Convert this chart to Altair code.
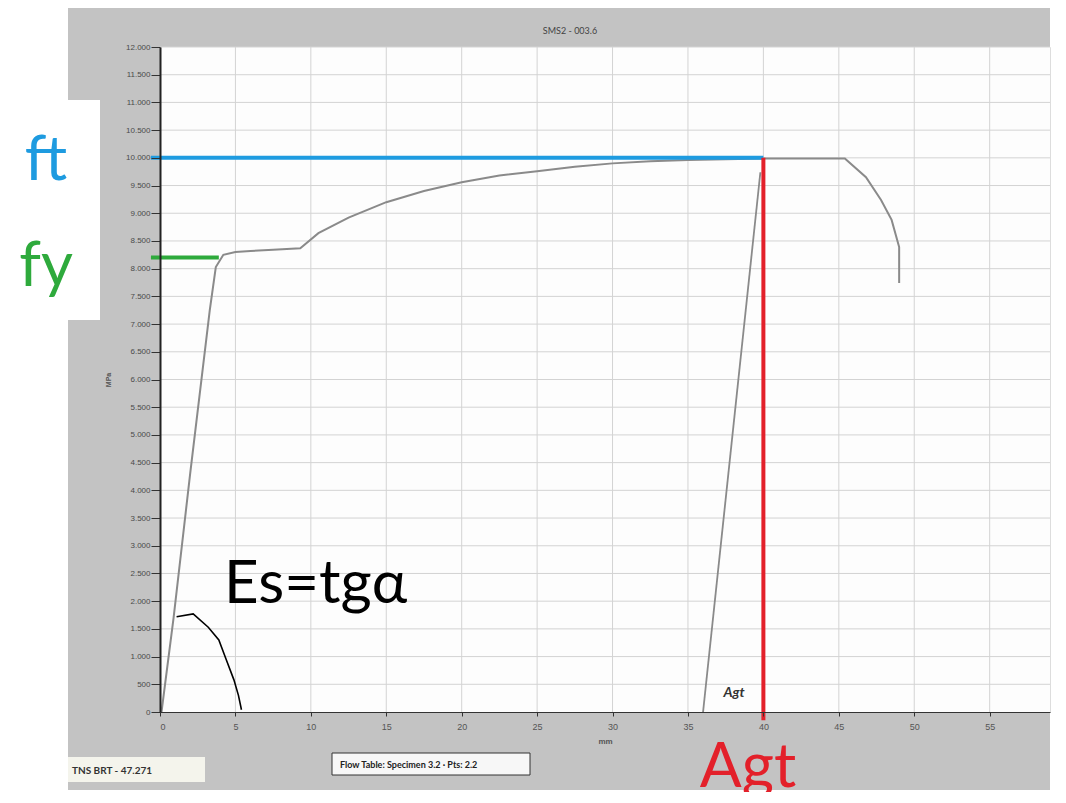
import altair as alt
import pandas as pd

# ---------------- data ----------------
curve_strain = [0.1, 0.9, 2.0, 3.3, 3.7, 4.2, 5.0, 6.0, 7.5, 9.3, 10.5, 12.5, 15.0,
                17.5, 20.0, 22.5, 25.0, 27.5, 30.0, 32.5, 35.0, 40.0, 45.4, 46.8,
                47.8, 48.5, 49.0, 49.0]
curve_stress = [0, 1700, 4300, 7250, 8030, 8250, 8300, 8320, 8340, 8370, 8640,
                8920, 9200, 9400, 9560, 9680, 9760, 9840, 9900, 9940, 9960, 9990,
                9990, 9650, 9240, 8880, 8390, 7740]
unload_strain = [39.8, 36.0]
unload_stress = [9740, 0]
arc_strain = [1.1, 2.2, 3.2, 3.9, 4.4, 4.9, 5.2, 5.4]
arc_stress = [1720, 1770, 1530, 1300, 940, 580, 300, 40]
ft_value = 10000
fy_value = 8200
agt_value = 40
y_ticks = list(range(0, 12001, 500))
x_ticks = list(range(0, 56, 5))

W, H = 890, 665
xs = alt.Scale(domain=[0, 59], nice=False, zero=False)
ys = alt.Scale(domain=[0, 12000], nice=False)

XAX = alt.Axis(values=x_ticks, zindex=1, grid=False, labelFontSize=9,
               labelColor="#555", tickColor="#333", domainColor="#333",
               titleFontSize=8, titleColor="#555", titlePadding=6,
               labelPadding=6, tickSize=4)
YAX = alt.Axis(values=y_ticks, zindex=1, grid=False, labelFontSize=8,
               labelColor="#4a4a4a", tickColor="#333", domainColor="#222",
               domainWidth=2, tickSize=9, labelPadding=1,
               titleFontSize=7, titleColor="#555", titlePadding=14,
               labelExpr="replace(format(datum.value, ',d'), ',', '.')")

def X(f):
    return alt.X(f, scale=xs, axis=XAX, title="mm")

def Y(f):
    return alt.Y(f, scale=ys, axis=YAX, title="MPa")

one = pd.DataFrame({"k": [0]})

# ---------------- decoration ----------------
frame = alt.Chart(one).mark_rect(color="#c3c3c3").encode(
    x=alt.value(-92), x2=alt.value(890), y=alt.value(-41), y2=alt.value(743))
cover = alt.Chart(one).mark_rect(color="white").encode(
    x=alt.value(-160), x2=alt.value(-60), y=alt.value(53), y2=alt.value(273))
plotbg = alt.Chart(one).mark_rect(color="#fdfdfd").encode(
    x=alt.value(0), x2=alt.value(W), y=alt.value(0), y2=alt.value(H))

hgrid = alt.Chart(pd.DataFrame({"stress": y_ticks[1:]})).mark_rule(
    color="#d3d3d3", strokeWidth=1).encode(y=Y("stress:Q"))
vgrid = alt.Chart(pd.DataFrame({"strain": x_ticks[1:]})).mark_rule(
    color="#d3d3d3", strokeWidth=1).encode(x=X("strain:Q"))

# ---------------- curves ----------------
cdf = pd.DataFrame({"strain": curve_strain, "stress": curve_stress,
                    "o": list(range(len(curve_strain)))})
curve = alt.Chart(cdf).mark_line(color="#8a8a8a", strokeWidth=2).encode(
    x=X("strain:Q"), y=Y("stress:Q"), order="o:Q")

udf = pd.DataFrame({"strain": unload_strain, "stress": unload_stress})
unload = alt.Chart(udf).mark_line(color="#8a8a8a", strokeWidth=1.8).encode(
    x=X("strain:Q"), y=Y("stress:Q"))

adf = pd.DataFrame({"strain": arc_strain, "stress": arc_stress,
                    "o": list(range(len(arc_strain)))})
arc = alt.Chart(adf).mark_line(color="black", strokeWidth=1.6).encode(
    x=X("strain:Q"), y=Y("stress:Q"), order="o:Q")

# ---------------- annotation lines ----------------
ft_line = alt.Chart(pd.DataFrame({"strain": [-0.6], "x2": [agt_value], "stress": [ft_value]})).mark_rule(
    color="#1e9be0", strokeWidth=4).encode(x=X("strain:Q"), x2="x2:Q", y=Y("stress:Q"))
fy_line = alt.Chart(pd.DataFrame({"strain": [-0.6], "x2": [3.9], "stress": [fy_value]})).mark_rule(
    color="#2eaa3c", strokeWidth=4).encode(x=X("strain:Q"), x2="x2:Q", y=Y("stress:Q"))
agt_line = alt.Chart(pd.DataFrame({"strain": [agt_value], "stress": [ft_value], "y2": [-150]})).mark_rule(
    color="#e3202a", strokeWidth=4).encode(x=X("strain:Q"), y=Y("stress:Q"), y2="y2:Q")

# ---------------- texts ----------------
def txt(s, x, y, size, color, **kw):
    return alt.Chart(one).mark_text(fontSize=size, color=color, font="Lato",
                                    baseline="alphabetic", **kw).encode(
        x=alt.value(x), y=alt.value(y), text=alt.value(s))

texts = [
    txt("ft", -114, 133, 62, "#1e9be0", align="center"),
    txt("fy", -114, 239, 62, "#2eaa3c", align="center"),
    txt("Es=tgα", 64, 556, 60, "black", align="left"),
    txt("Agt", 588, 740, 62, "#e3202a", align="center"),
    txt("Agt", 574, 650, 14, "#333", align="center", fontStyle="italic", fontWeight="bold"),
    txt("SMS2 - 003.6", 410, -13, 9, "#444", align="center"),
    txt("TNS BRT - 47.271", -88, 727, 10, "#333", align="left", fontWeight="bold"),
    txt("Flow Table: Specimen 3.2 · Pts: 2.2", 180, 721, 9, "#222", align="left", fontWeight="bold"),
]
foot1 = alt.Chart(one).mark_rect(color="#f4f4ec").encode(
    x=alt.value(-92), x2=alt.value(45), y=alt.value(710), y2=alt.value(735))
foot2 = alt.Chart(one).mark_rect(color="#f7f7f7", stroke="#333", strokeWidth=1).encode(
    x=alt.value(172), x2=alt.value(370), y=alt.value(706), y2=alt.value(728))

chart = alt.layer(
    frame, cover, plotbg, hgrid, vgrid, foot1, foot2,
    curve, unload, arc, fy_line, ft_line, agt_line, *texts
).properties(
    width=W, height=H,
    autosize=alt.AutoSizeParams(type="none"),
    padding={"left": 152, "top": 39, "right": 8, "bottom": 80},
).configure_view(stroke=None).configure(background="white")

chart.save("out.html", embed_options={"renderer": "svg", "actions": False})
